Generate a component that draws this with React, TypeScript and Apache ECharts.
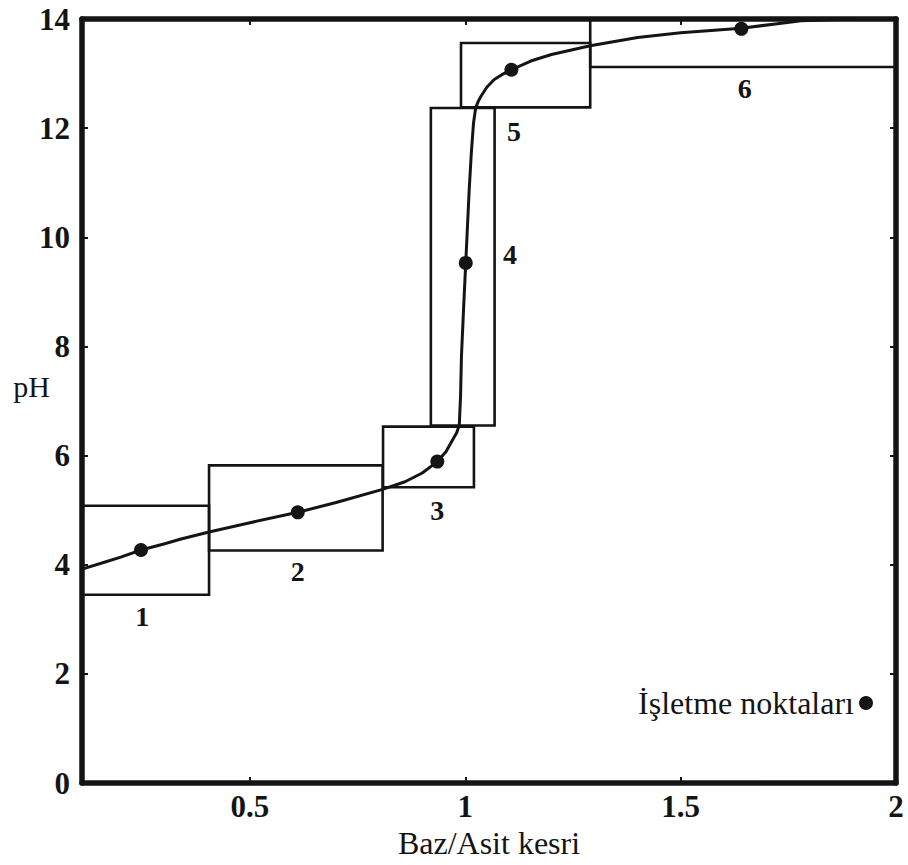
import React, { useEffect, useRef } from "react";
import * as echarts from "echarts";

// Titration curve (base/acid fraction vs pH)
const curveX = [0.11, 0.16, 0.2, 0.247, 0.3, 0.34, 0.405, 0.5, 0.611, 0.7, 0.808, 0.86, 0.9, 0.935, 0.955, 0.97, 0.98, 0.986, 0.989, 0.991, 0.996, 1.001, 1.005, 1.009, 1.014, 1.019, 1.024, 1.03, 1.036, 1.05, 1.067, 1.085, 1.107, 1.152, 1.2, 1.29, 1.4, 1.5, 1.641, 1.72, 1.78, 1.9, 2.0];
const curveY = [3.92, 4.04, 4.14, 4.27, 4.38, 4.47, 4.6, 4.77, 4.96, 5.14, 5.38, 5.52, 5.68, 5.89, 6.07, 6.28, 6.42, 6.56, 7.1, 7.81, 8.7, 9.53, 10.2, 10.87, 11.55, 12.09, 12.37, 12.49, 12.58, 12.75, 12.89, 12.98, 13.07, 13.23, 13.35, 13.51, 13.66, 13.75, 13.83, 13.91, 13.97, 14.0, 14.0];

// Operating points
const pointX = [0.247, 0.611, 0.935, 1.001, 1.107, 1.641];
const pointY = [4.27, 4.96, 5.89, 9.53, 13.07, 13.82];

// Operating windows (x range, pH range)
const boxX0 = [0.11, 0.405, 0.809, 0.92, 0.99, 1.29];
const boxX1 = [0.405, 0.808, 1.02, 1.068, 1.29, 2.0];
const boxPh0 = [3.45, 4.26, 5.42, 6.55, 12.38, 13.12];
const boxPh1 = [5.08, 5.82, 6.53, 12.37, 13.56, 14.0];
const boxNames = ["1", "2", "3", "4", "5", "6"];
const boxNameX = [0.25, 0.611, 0.935, 1.104, 1.113, 1.649];
const boxNamePh = [3.05, 3.87, 5.0, 9.68, 11.94, 12.73];

const xTicks = [0.5, 1, 1.5, 2];
const X_MIN = 0.11;
const X_MAX = 2;
const Y_MIN = 0;
const Y_MAX = 14;

const SERIF = "'Liberation Serif', 'Times New Roman', serif";
const INK = "#141414";

export default function App() {
  const ref = useRef<HTMLDivElement>(null);

  useEffect(() => {
    if (!ref.current) return;
    const chart = echarts.init(ref.current, undefined, { renderer: "svg" });

    const boxData = boxX0.map((x0, i) => [x0, boxX1[i], boxPh0[i], boxPh1[i]]);
    const nameData = boxNames.map((n, i) => ({ name: n, value: [boxNameX[i], boxNamePh[i]] }));

    const axisLine = { show: true, onZero: false, lineStyle: { color: INK, width: 5.5 } };
    const tickStyle = { color: INK, width: 2 };

    chart.setOption({
      animation: false,
      backgroundColor: "#ffffff",
      grid: {
        left: 82,
        right: 12,
        top: 19,
        bottom: 82,
        containLabel: false,
        outerBoundsMode: "none",
      },
      legend: {
        data: [{ name: "İşletme noktaları", icon: "circle" }],
        right: 30,
        top: 682,
        align: "right",
        itemWidth: 14,
        itemHeight: 14,
        textStyle: { fontFamily: SERIF, fontSize: 32, color: INK },
      },
      xAxis: [
        {
          type: "value",
          min: X_MIN,
          max: X_MAX,
          name: "Baz/Asit kesri",
          nameLocation: "middle",
          nameGap: 39,
          nameTextStyle: { fontFamily: SERIF, fontSize: 32, color: INK },
          axisLine,
          axisTick: { show: true, inside: true, length: 6, lineStyle: tickStyle, customValues: xTicks },
          axisLabel: {
            show: true,
            margin: 8,
            customValues: xTicks,
            fontFamily: SERIF,
            fontWeight: "bold",
            fontSize: 31,
            color: INK,
          },
          splitLine: { show: false },
        },
        {
          type: "value",
          position: "top",
          min: X_MIN,
          max: X_MAX,
          axisLine,
          axisTick: { show: true, inside: true, length: 6, lineStyle: tickStyle, customValues: xTicks },
          axisLabel: { show: false },
          splitLine: { show: false },
        },
      ],
      yAxis: [
        {
          type: "value",
          min: Y_MIN,
          max: Y_MAX,
          interval: 2,
          name: "pH",
          nameLocation: "middle",
          nameRotate: 0,
          nameGap: 32,
          nameMoveOverlap: false,
          nameTextStyle: {
            fontFamily: SERIF,
            fontSize: 30,
            color: INK,
            align: "right",
            verticalAlign: "bottom",
          },
          axisLine,
          axisTick: { show: true, inside: true, length: 6, lineStyle: tickStyle },
          axisLabel: {
            show: true,
            margin: 12,
            fontFamily: SERIF,
            fontWeight: "bold",
            fontSize: 31,
            color: INK,
          },
          splitLine: { show: false },
        },
        {
          type: "value",
          position: "right",
          min: Y_MIN,
          max: Y_MAX,
          interval: 2,
          axisLine,
          axisTick: { show: true, inside: true, length: 6, lineStyle: tickStyle },
          axisLabel: { show: false },
          splitLine: { show: false },
        },
      ],
      series: [
        {
          type: "custom",
          name: "windows",
          xAxisIndex: 0,
          yAxisIndex: 0,
          data: boxData,
          silent: true,
          z: 2,
          renderItem: (params: any, api: any) => {
            const tl = api.coord([api.value(0), api.value(3)]);
            const br = api.coord([api.value(1), api.value(2)]);
            return {
              type: "rect",
              shape: { x: tl[0], y: tl[1], width: br[0] - tl[0], height: br[1] - tl[1] },
              style: { fill: "none", stroke: INK, lineWidth: 2.6 },
            };
          },
        },
        {
          type: "custom",
          name: "windowNames",
          data: nameData,
          silent: true,
          z: 2,
          renderItem: (params: any, api: any) => {
            const p = api.coord([api.value(0), api.value(1)]);
            return {
              type: "text",
              x: p[0],
              y: p[1],
              style: {
                text: boxNames[params.dataIndex],
                fontFamily: SERIF,
                fontWeight: "bold",
                fontSize: 28,
                fill: INK,
                align: "center",
                verticalAlign: "middle",
              },
            };
          },
        },
        {
          type: "line",
          name: "curve",
          data: curveX.map((x, i) => [x, curveY[i]]),
          smooth: false,
          showSymbol: false,
          lineStyle: { color: INK, width: 3, join: "round", cap: "round" },
          z: 3,
          silent: true,
        },
        {
          type: "scatter",
          name: "İşletme noktaları",
          data: pointX.map((x, i) => [x, pointY[i]]),
          symbol: "circle",
          symbolSize: 14,
          itemStyle: { color: INK, opacity: 1 },
          z: 4,
        },
      ],
    });

    return () => chart.dispose();
  }, []);

  return (
    <div
      ref={ref}
      style={{ position: "fixed", left: 0, top: 0, width: 908, height: 865, background: "#fff" }}
    />
  );
}
